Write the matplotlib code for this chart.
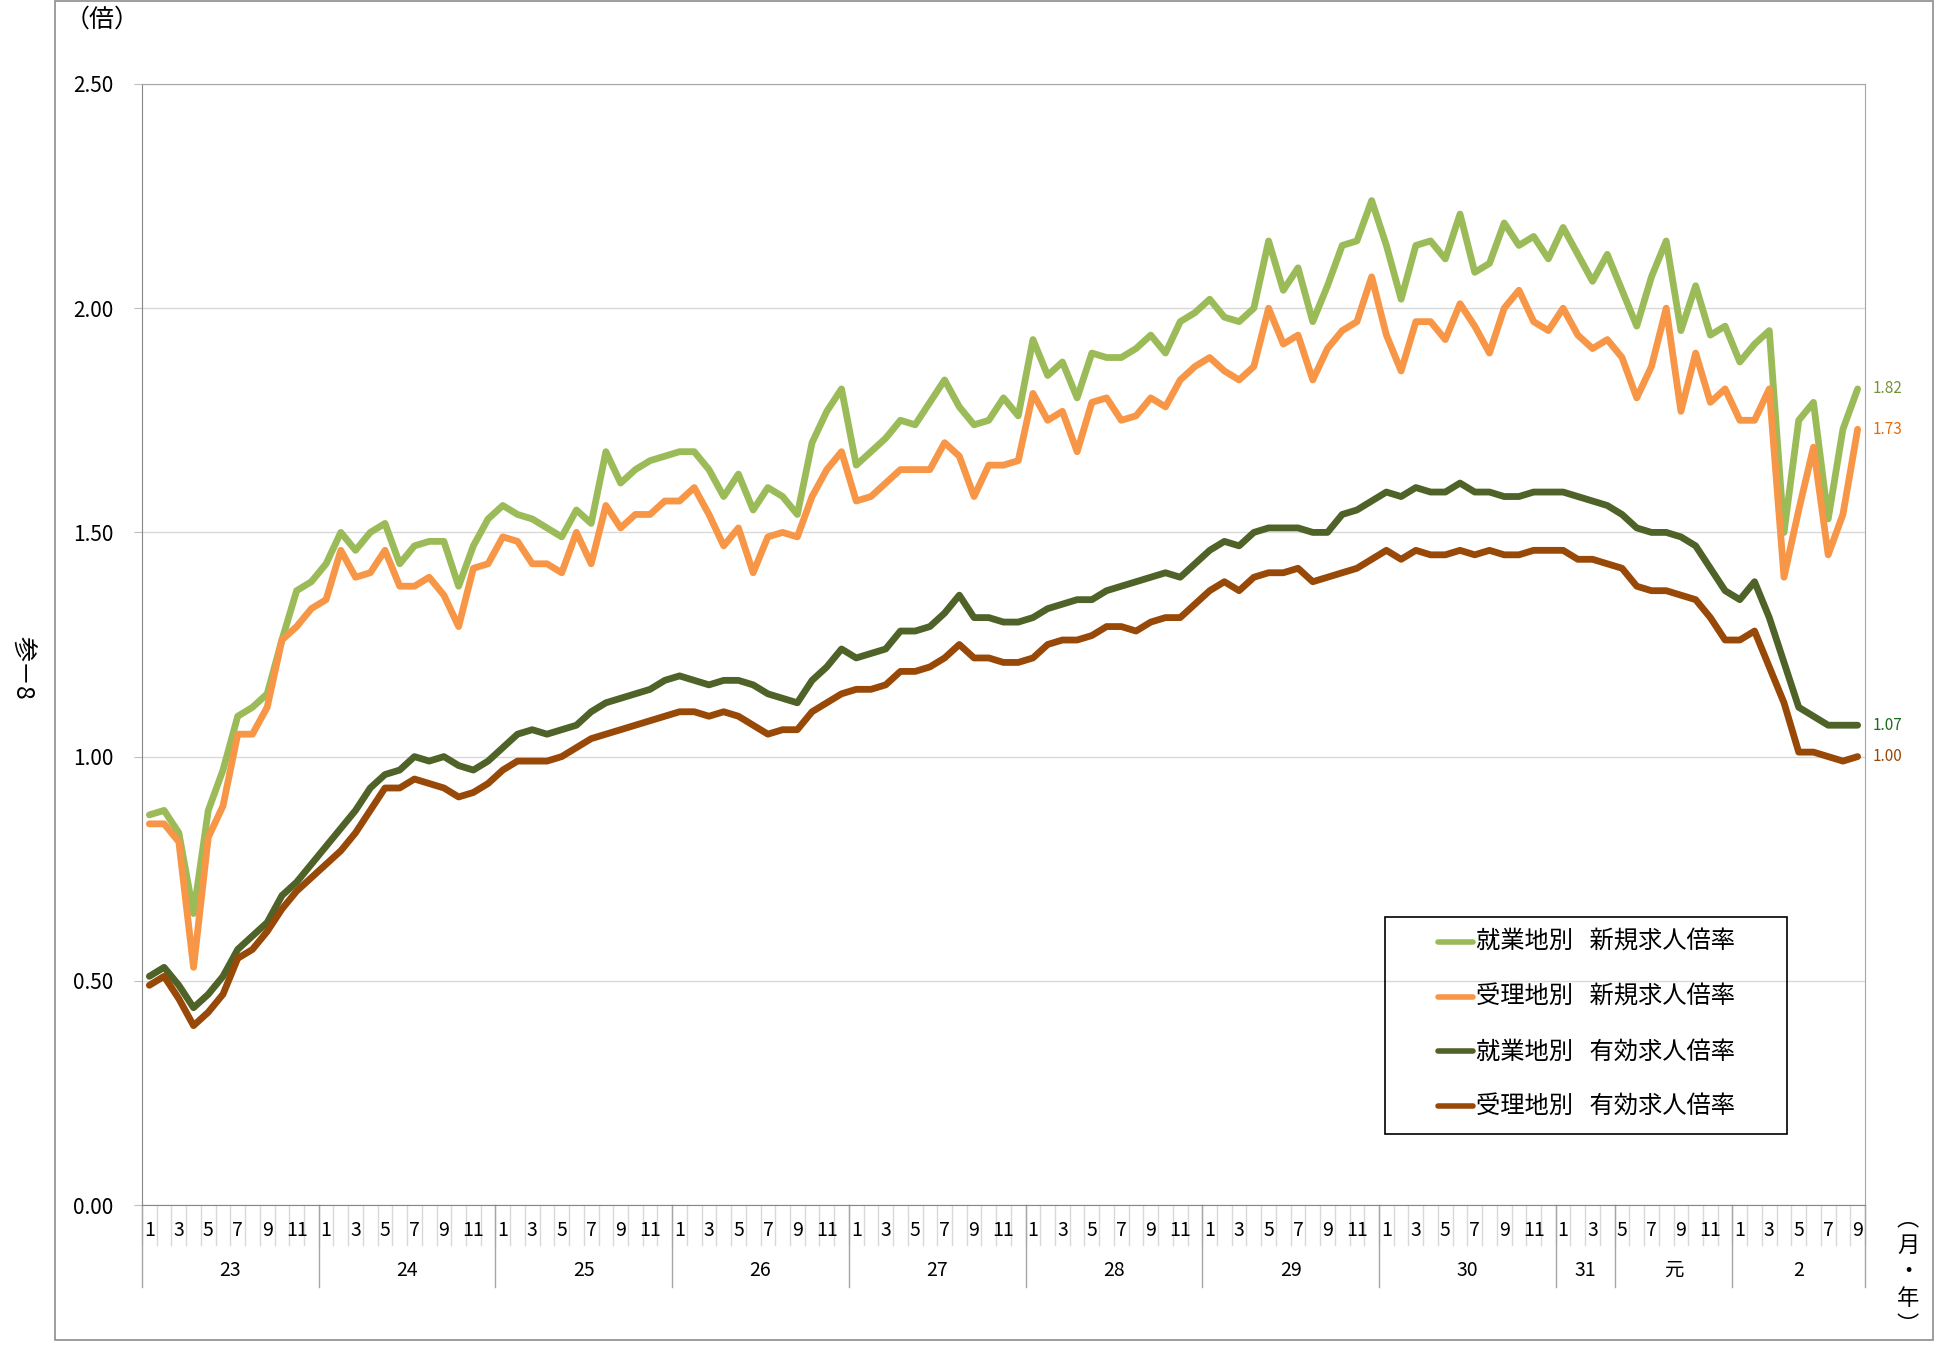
import numpy as np
import matplotlib
matplotlib.use('Agg')
import matplotlib.pyplot as plt
from matplotlib.patches import Rectangle
from matplotlib.lines import Line2D
from matplotlib.ticker import FormatStrFormatter

plt.rcParams['font.family'] = ['Noto Sans CJK JP', 'DejaVu Sans']

# years (Heisei 23 .. Reiwa 2), months in each and the first month
years = ['23', '24', '25', '26', '27', '28', '29', '30', '31', '元', '2']
year_months = [12, 12, 12, 12, 12, 12, 12, 12, 4, 8, 9]
year_start = [1, 1, 1, 1, 1, 1, 1, 1, 1, 5, 1]

labels = ['就業地別   新規求人倍率', '受理地別   新規求人倍率',
          '就業地別   有効求人倍率', '受理地別   有効求人倍率']
colors = ['#9BBB59', '#F79646', '#4F6228', '#984807']
end_colors = ['#76923C', '#E46C0A', '#1E6B1E', '#984807']

new_work = [0.87, 0.88, 0.83, 0.65, 0.88, 0.97, 1.09, 1.11, 1.14, 1.26, 1.37, 1.39,
            1.43, 1.50, 1.46, 1.50, 1.52, 1.43, 1.47, 1.48, 1.48, 1.38, 1.47, 1.53,
            1.56, 1.54, 1.53, 1.51, 1.49, 1.55, 1.52, 1.68, 1.61, 1.64, 1.66, 1.67,
            1.68, 1.68, 1.64, 1.58, 1.63, 1.55, 1.60, 1.58, 1.54, 1.70, 1.77, 1.82,
            1.65, 1.68, 1.71, 1.75, 1.74, 1.79, 1.84, 1.78, 1.74, 1.75, 1.80, 1.76,
            1.93, 1.85, 1.88, 1.80, 1.90, 1.89, 1.89, 1.91, 1.94, 1.90, 1.97, 1.99,
            2.02, 1.98, 1.97, 2.00, 2.15, 2.04, 2.09, 1.97, 2.05, 2.14, 2.15, 2.24,
            2.14, 2.02, 2.14, 2.15, 2.11, 2.21, 2.08, 2.10, 2.19, 2.14, 2.16, 2.11,
            2.18, 2.12, 2.06, 2.12, 2.04, 1.96, 2.07, 2.15, 1.95, 2.05, 1.94, 1.96,
            1.88, 1.92, 1.95, 1.50, 1.75, 1.79, 1.53, 1.73, 1.82]

new_recv = [0.85, 0.85, 0.81, 0.53, 0.82, 0.89, 1.05, 1.05, 1.11, 1.26, 1.29, 1.33,
            1.35, 1.46, 1.40, 1.41, 1.46, 1.38, 1.38, 1.40, 1.36, 1.29, 1.42, 1.43,
            1.49, 1.48, 1.43, 1.43, 1.41, 1.50, 1.43, 1.56, 1.51, 1.54, 1.54, 1.57,
            1.57, 1.60, 1.54, 1.47, 1.51, 1.41, 1.49, 1.50, 1.49, 1.58, 1.64, 1.68,
            1.57, 1.58, 1.61, 1.64, 1.64, 1.64, 1.70, 1.67, 1.58, 1.65, 1.65, 1.66,
            1.81, 1.75, 1.77, 1.68, 1.79, 1.80, 1.75, 1.76, 1.80, 1.78, 1.84, 1.87,
            1.89, 1.86, 1.84, 1.87, 2.00, 1.92, 1.94, 1.84, 1.91, 1.95, 1.97, 2.07,
            1.94, 1.86, 1.97, 1.97, 1.93, 2.01, 1.96, 1.90, 2.00, 2.04, 1.97, 1.95,
            2.00, 1.94, 1.91, 1.93, 1.89, 1.80, 1.87, 2.00, 1.77, 1.90, 1.79, 1.82,
            1.75, 1.75, 1.82, 1.40, 1.55, 1.69, 1.45, 1.54, 1.73]

eff_work = [0.51, 0.53, 0.49, 0.44, 0.47, 0.51, 0.57, 0.60, 0.63, 0.69, 0.72, 0.76,
            0.80, 0.84, 0.88, 0.93, 0.96, 0.97, 1.00, 0.99, 1.00, 0.98, 0.97, 0.99,
            1.02, 1.05, 1.06, 1.05, 1.06, 1.07, 1.10, 1.12, 1.13, 1.14, 1.15, 1.17,
            1.18, 1.17, 1.16, 1.17, 1.17, 1.16, 1.14, 1.13, 1.12, 1.17, 1.20, 1.24,
            1.22, 1.23, 1.24, 1.28, 1.28, 1.29, 1.32, 1.36, 1.31, 1.31, 1.30, 1.30,
            1.31, 1.33, 1.34, 1.35, 1.35, 1.37, 1.38, 1.39, 1.40, 1.41, 1.40, 1.43,
            1.46, 1.48, 1.47, 1.50, 1.51, 1.51, 1.51, 1.50, 1.50, 1.54, 1.55, 1.57,
            1.59, 1.58, 1.60, 1.59, 1.59, 1.61, 1.59, 1.59, 1.58, 1.58, 1.59, 1.59,
            1.59, 1.58, 1.57, 1.56, 1.54, 1.51, 1.50, 1.50, 1.49, 1.47, 1.42, 1.37,
            1.35, 1.39, 1.31, 1.21, 1.11, 1.09, 1.07, 1.07, 1.07]

eff_recv = [0.49, 0.51, 0.46, 0.40, 0.43, 0.47, 0.55, 0.57, 0.61, 0.66, 0.70, 0.73,
            0.76, 0.79, 0.83, 0.88, 0.93, 0.93, 0.95, 0.94, 0.93, 0.91, 0.92, 0.94,
            0.97, 0.99, 0.99, 0.99, 1.00, 1.02, 1.04, 1.05, 1.06, 1.07, 1.08, 1.09,
            1.10, 1.10, 1.09, 1.10, 1.09, 1.07, 1.05, 1.06, 1.06, 1.10, 1.12, 1.14,
            1.15, 1.15, 1.16, 1.19, 1.19, 1.20, 1.22, 1.25, 1.22, 1.22, 1.21, 1.21,
            1.22, 1.25, 1.26, 1.26, 1.27, 1.29, 1.29, 1.28, 1.30, 1.31, 1.31, 1.34,
            1.37, 1.39, 1.37, 1.40, 1.41, 1.41, 1.42, 1.39, 1.40, 1.41, 1.42, 1.44,
            1.46, 1.44, 1.46, 1.45, 1.45, 1.46, 1.45, 1.46, 1.45, 1.45, 1.46, 1.46,
            1.46, 1.44, 1.44, 1.43, 1.42, 1.38, 1.37, 1.37, 1.36, 1.35, 1.31, 1.26,
            1.26, 1.28, 1.20, 1.12, 1.01, 1.01, 1.00, 0.99, 1.00]

series = [new_work, new_recv, eff_work, eff_recv]

W, H = 1943, 1346
fig = plt.figure(figsize=(W / 100, H / 100), dpi=100)

def fx(px):
    return px / W

def fy(py):
    return 1 - py / H

# outer frame
fig.add_artist(Rectangle((fx(55), fy(1340)), fx(1933) - fx(55), fy(1) - fy(1340),
                         transform=fig.transFigure, fill=False, edgecolor='#8C8C8C', lw=1.2))

ax = fig.add_axes([fx(142), fy(1205), fx(1865) - fx(142), fy(84) - fy(1205)])

n = sum(year_months)
x = np.arange(n)
for vals, c in zip(series, colors):
    ax.plot(x, vals, color=c, lw=4.9, solid_joinstyle='round', solid_capstyle='round', zorder=3)

ax.set_xlim(-0.5, n - 0.5)
ax.set_ylim(0, 2.5)
ax.set_yticks(np.arange(0, 2.51, 0.5))
ax.yaxis.set_major_formatter(FormatStrFormatter('%.2f'))
ax.tick_params(axis='y', length=5.8, color='#BFBFBF', pad=15, labelsize=15)
ax.set_xticks([])
ax.grid(axis='y', color='#D9D9D9', lw=1.0)
ax.set_axisbelow(True)
for side in ['left', 'bottom']:
    ax.spines[side].set_color('#868686')
for side in ['top', 'right']:
    ax.spines[side].set_color('#A6A6A6')

# end labels
for vals, c in zip(series, end_colors):
    ax.annotate(f'{vals[-1]:.2f}', xy=(n - 1, vals[-1]), xytext=(11, 0),
                textcoords='offset points', ha='left', va='center',
                fontsize=11, color=c, annotation_clip=False)

# category axis: months and years
ah = 1205 - 84
tr = ax.get_xaxis_transform()
months = []
for ys, cnt in zip(year_start, year_months):
    months += list(range(ys, ys + cnt))
for i, m in enumerate(months):
    if m % 2 == 1:
        ax.text(i, -25 / ah, str(m), transform=tr, ha='center', va='center', fontsize=14)
for b in np.arange(n + 1) - 0.5:
    ax.plot([b, b], [0, -40 / ah], transform=tr, color='#D9D9D9', lw=1, clip_on=False)
edges = np.concatenate([[0], np.cumsum(year_months)]) - 0.5
for b in edges:
    ax.plot([b, b], [0, -82 / ah], transform=tr, color='#A6A6A6', lw=1, clip_on=False)
for k, yname in enumerate(years):
    ax.text((edges[k] + edges[k + 1]) / 2, -65 / ah, yname, transform=tr,
            ha='center', va='center', fontsize=14)

fig.text(fx(102), fy(20), '（倍）', ha='center', va='center', fontsize=18)
fig.text(fx(1908), fy(1272), '︵\n月\n・\n年\n︶', ha='center', va='center',
         fontsize=16, linespacing=1.2)
fig.text(fx(22), fy(668), '参－8', ha='center', va='center', fontsize=18, rotation=270)

# legend box
fig.add_artist(Rectangle((fx(1385), fy(1134)), fx(1787) - fx(1385), fy(917) - fy(1134),
                         transform=fig.transFigure, fill=False, edgecolor='black', lw=1.2))
for k, (lab, c) in enumerate(zip(labels, colors)):
    yy = 942 + k * 54.7
    fig.add_artist(Line2D([fx(1438), fx(1473)], [fy(yy), fy(yy)], transform=fig.transFigure,
                          color=c, lw=4, solid_capstyle='round'))
    fig.text(fx(1476), fy(yy), lab, ha='left', va='center', fontsize=17.5)

fig.savefig('out.png', dpi=100)
